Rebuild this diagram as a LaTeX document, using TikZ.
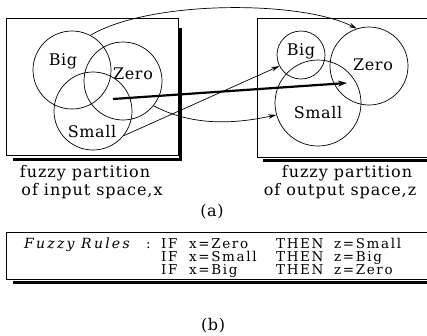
\documentclass[tikz,border=0pt]{standalone}
\usepackage{fontspec}
\setmainfont{DejaVu Serif}
\usetikzlibrary{arrows.meta}
\begin{document}
\begin{tikzpicture}[x=1pt,y=-1pt,
  set/.style={circle,draw,line width=0.7pt,inner sep=0pt},
  lbl/.style={font=\fontsize{16}{18}\selectfont\addfontfeature{LetterSpace=4},inner sep=0pt},
  captxt/.style={font=\fontsize{16}{18}\selectfont\addfontfeature{LetterSpace=6},inner sep=0pt},
  ruletxt/.style={font=\fontsize{13.5}{16}\selectfont\addfontfeature{LetterSpace=12},inner sep=0pt,anchor=base west,text height=8pt,text depth=1.5pt},
  frame/.style={line width=0.7pt},
  shadowline/.style={line width=3pt},
  conn/.style={line width=0.7pt,-{Stealth[length=8pt,width=4.5pt]}},
  thickconn/.style={line width=2.2pt,-{Stealth[length=9pt,width=6pt]}}]
\useasboundingbox (0,0) rectangle (427,335);
% frames
\draw[frame] (6,18) rectangle (178,155);
\draw[shadowline] (180,28) -- (180,159) -- (13,159);
\draw[frame] (427,18) -- (257,18) -- (257,157) -- (427,157);
\draw[shadowline] (263,160) -- (427,160);
\draw[frame] (427,232) -- (6,232) -- (6,279) -- (427,279);
\draw[shadowline] (13,282) -- (427,282);
% left circles
\node[set,minimum size=78pt] (lbig) at (72,70) {};
\node[set,minimum size=78pt] (lzero) at (123,81) {};
\node[set,minimum size=78pt] (lsmall) at (93,111) {};
\node[lbl] (lbigt) at (63,61) {Big};
\node[lbl] (lzerot) at (133,74) {Zero};
\node[lbl] (lsmallt) at (92,132) {Small};
% right circles
\node[set,minimum size=48pt] (rbig) at (301,55) {};
\node[set,minimum size=78pt] (rzero) at (369,66) {};
\node[set,minimum size=86pt] (rsmall) at (318,103) {};
\node[lbl] (rbigt) at (301,51) {Big};
\node[lbl] (rzerot) at (373,65) {Zero};
\node[lbl] (rsmallt) at (318,113) {Small};
% captions
\node[captxt] (c1) at (85,173) {fuzzy partition};
\node[captxt] (c2) at (92,191) {of input space,x};
\node[captxt] (c3) at (347,173) {fuzzy partition};
\node[captxt] (c4) at (340,191) {of output space,z};
\node[lbl] (ca) at (212,212) {(a)};
\node[lbl] (cb) at (213,326) {(b)};
% connectors
\coordinate (ts) at (113,99);
\coordinate (te) at (347,83);
\draw[conn] (lbig.62) .. controls (150,0) and (300,0) .. (rzero.108);
\draw[conn] (lzero.-39) .. controls (190,125) and (230,125) .. (rsmall.196);
\draw[conn] (lsmall.-39) -- (rbig.207);
\draw[thickconn] (ts) -- (te);
% rules
\node[ruletxt,font=\fontsize{14}{16}\selectfont\itshape\addfontfeature{LetterSpace=16}] (r0) at (24,248) {Fuzzy\ Rules};
\node[ruletxt] (r0c) at (146,248) {:};
\node[ruletxt] (r1a) at (161,248) {IF};
\node[ruletxt] (r1b) at (189,248) {x=Zero};
\node[ruletxt] (r1c) at (276,248) {THEN};
\node[ruletxt] (r1d) at (334,248) {z=Small};
\node[ruletxt] (r2a) at (161,261) {IF};
\node[ruletxt] (r2b) at (189,261) {x=Small};
\node[ruletxt] (r2c) at (276,261) {THEN};
\node[ruletxt] (r2d) at (334,261) {z=Big};
\node[ruletxt] (r3a) at (161,274) {IF};
\node[ruletxt] (r3b) at (189,274) {x=Big};
\node[ruletxt] (r3c) at (276,274) {THEN};
\node[ruletxt] (r3d) at (334,274) {z=Zero};
\end{tikzpicture}
\end{document}
